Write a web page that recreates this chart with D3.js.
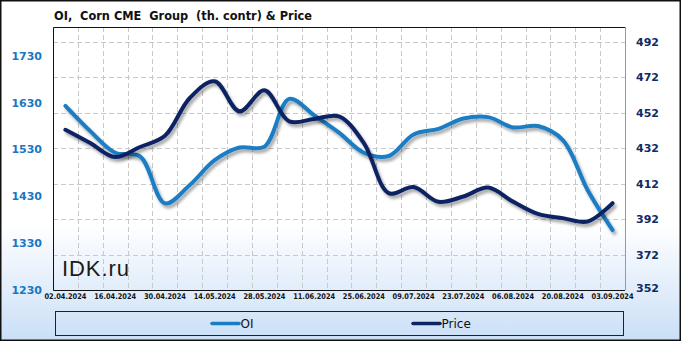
<!DOCTYPE html>
<html><head><meta charset="utf-8">
<script src="https://cdn.jsdelivr.net/npm/d3@7"></script>
<style>html,body{margin:0;padding:0;background:#fff;}svg{display:block;}</style>
</head><body>
<script>
const dates = ["02.04.2024","09.04.2024","16.04.2024","23.04.2024","30.04.2024","07.05.2024","14.05.2024","21.05.2024","28.05.2024","04.06.2024","11.06.2024","18.06.2024","25.06.2024","02.07.2024","09.07.2024","16.07.2024","23.07.2024","30.07.2024","06.08.2024","13.08.2024","20.08.2024","27.08.2024","03.09.2024"];
const oiValues = [1623,1569,1523,1515,1415,1454,1507,1534,1536,1638,1603,1566,1523,1516,1562,1574,1596,1599,1577,1580,1550,1443,1358];
const priceValues = [442.3,434.8,426.9,432.6,438.9,460.2,469.6,452.7,464.5,447,448.4,449.8,434.8,406.6,410,401.7,404.7,409.7,401.8,394.9,392.5,390.6,400.9];
const leftTicks = [1230,1330,1430,1530,1630,1730];
const rightTicks = [352,372,392,412,432,452,472,492];
const xLabels = dates.filter((d,i)=>i%2===0);
const titleText = "OI,  Corn CME  Group  (th. contr) & Price";

const W=681,H=341;
const pl=53, pr=625, pt=27, pb=290;
const svg=d3.select("body").append("svg").attr("width",W).attr("height",H);
const defs=svg.append("defs");
const g=defs.append("linearGradient").attr("id","bg").attr("x1",0).attr("y1",0).attr("x2",0).attr("y2",1);
g.append("stop").attr("offset","0").attr("stop-color","#ffffff");
g.append("stop").attr("offset","0.66").attr("stop-color","#ffffff");
g.append("stop").attr("offset","1").attr("stop-color","#cadff7");
const f=defs.append("filter").attr("id","sh").attr("x","-10%").attr("y","-10%").attr("width","120%").attr("height","130%");
f.append("feDropShadow").attr("dx",2).attr("dy",3).attr("stdDeviation",1.5).attr("flood-color","#000").attr("flood-opacity",0.35);

svg.append("rect").attr("x",0.75).attr("y",0.75).attr("width",W-1.5).attr("height",H-1.5).attr("fill","url(#bg)").attr("stroke","#111").attr("stroke-width",1.5);

const x=d3.scaleBand().domain(dates).range([pl,pr]).padding(0);
const yL=d3.scaleLinear().domain([1230,1791.3]).range([pb,pt]);
const yR=d3.scaleLinear().domain([352,500.2]).range([pb,pt]);
const cx=d=>x(d)+x.bandwidth()/2;

// grid
const grid=svg.append("g").attr("stroke","#c9c9c9").attr("stroke-width",1).attr("stroke-dasharray","5,3");
dates.slice(1).forEach(d=>{const xx=Math.round(x(d))+0.5;grid.append("line").attr("x1",xx).attr("x2",xx).attr("y1",pt).attr("y2",pb);});
rightTicks.slice(1).forEach(t=>{const yy=Math.round(yR(t))+0.5;grid.append("line").attr("x1",pl).attr("x2",pr).attr("y1",yy).attr("y2",yy);});

// frame
svg.append("line").attr("x1",pr+0.5).attr("x2",pr+0.5).attr("y1",pt).attr("y2",pb).attr("stroke","#999");
svg.append("path").attr("d",`M${pr},${pt+0.5}H${pl+0.5}V${pb+0.5}H${pr}`).attr("fill","none").attr("stroke","#111").attr("stroke-width",1);

// axes
const axL=d3.axisLeft(yL).tickValues(leftTicks).tickSize(0).tickPadding(11).tickFormat(d3.format("d"));
const gl=svg.append("g").attr("transform",`translate(${pl},0)`).call(axL);
gl.select(".domain").remove();
gl.selectAll("text").attr("fill","#1a77c3").attr("font-family","DejaVu Sans").attr("font-weight","bold").attr("font-size",11);

const axR=d3.axisRight(yR).tickValues(rightTicks).tickSize(0).tickPadding(11).tickFormat(d3.format("d"));
const gr=svg.append("g").attr("transform",`translate(${pr},0)`).call(axR);
gr.select(".domain").remove();
gr.selectAll("text").attr("fill","#0f2a66").attr("font-family","DejaVu Sans").attr("font-weight","bold").attr("font-size",11);
gr.selectAll(".tick").filter(d=>d===352).select("text").attr("dy","0.1em");

const axB=d3.axisBottom(x).tickValues(xLabels).tickSize(0).tickPadding(3);
const gb=svg.append("g").attr("transform",`translate(0,${pb})`).call(axB);
gb.select(".domain").remove();
gb.selectAll("text").attr("fill","#111").attr("font-family","DejaVu Sans").attr("font-weight","bold").attr("font-size",7.8)
  .attr("textLength",42).attr("lengthAdjust","spacingAndGlyphs");

// watermark
svg.append("text").attr("x",62).attr("y",276).attr("font-family","Liberation Sans").attr("font-size",22).attr("fill","#1a1a1a").attr("textLength",67).text("IDK.ru");

// lines
const lineL=d3.line().x((d,i)=>cx(dates[i])).y(d=>yL(d)).curve(d3.curveCatmullRom.alpha(0.5));
const lineR=d3.line().x((d,i)=>cx(dates[i])).y(d=>yR(d)).curve(d3.curveCatmullRom.alpha(0.5));
svg.append("path").attr("d",lineL(oiValues)).attr("fill","none").attr("stroke","#1a7dc4").attr("stroke-width",4).attr("stroke-linecap","round").attr("stroke-linejoin","round").attr("filter","url(#sh)");
svg.append("path").attr("d",lineR(priceValues)).attr("fill","none").attr("stroke","#0c2463").attr("stroke-width",4).attr("stroke-linecap","round").attr("stroke-linejoin","round").attr("filter","url(#sh)");

// title
svg.append("text").attr("x",54).attr("y",19.5).attr("font-family","DejaVu Sans").attr("font-weight","bold").attr("font-size",12).attr("fill","#111").attr("xml:space","preserve").style("white-space","pre")
  .attr("textLength",258).attr("lengthAdjust","spacingAndGlyphs").text(titleText);

// legend
svg.append("rect").attr("x",55.5).attr("y",311.5).attr("width",568).attr("height",24).attr("fill","none").attr("stroke","#222").attr("stroke-width",1);
const leg=[{name:"OI",color:"#1a7dc4",x:212},{name:"Price",color:"#0c2463",x:413}];
leg.forEach(l=>{
  svg.append("line").attr("x1",l.x).attr("x2",l.x+27).attr("y1",323.5).attr("y2",323.5).attr("stroke",l.color).attr("stroke-width",3.5).attr("stroke-linecap","round");
  svg.append("text").attr("x",l.x+28.5).attr("y",327.5).attr("font-family","DejaVu Sans").attr("font-size",12).attr("fill","#111").text(l.name);
});
</script>
</body></html>
